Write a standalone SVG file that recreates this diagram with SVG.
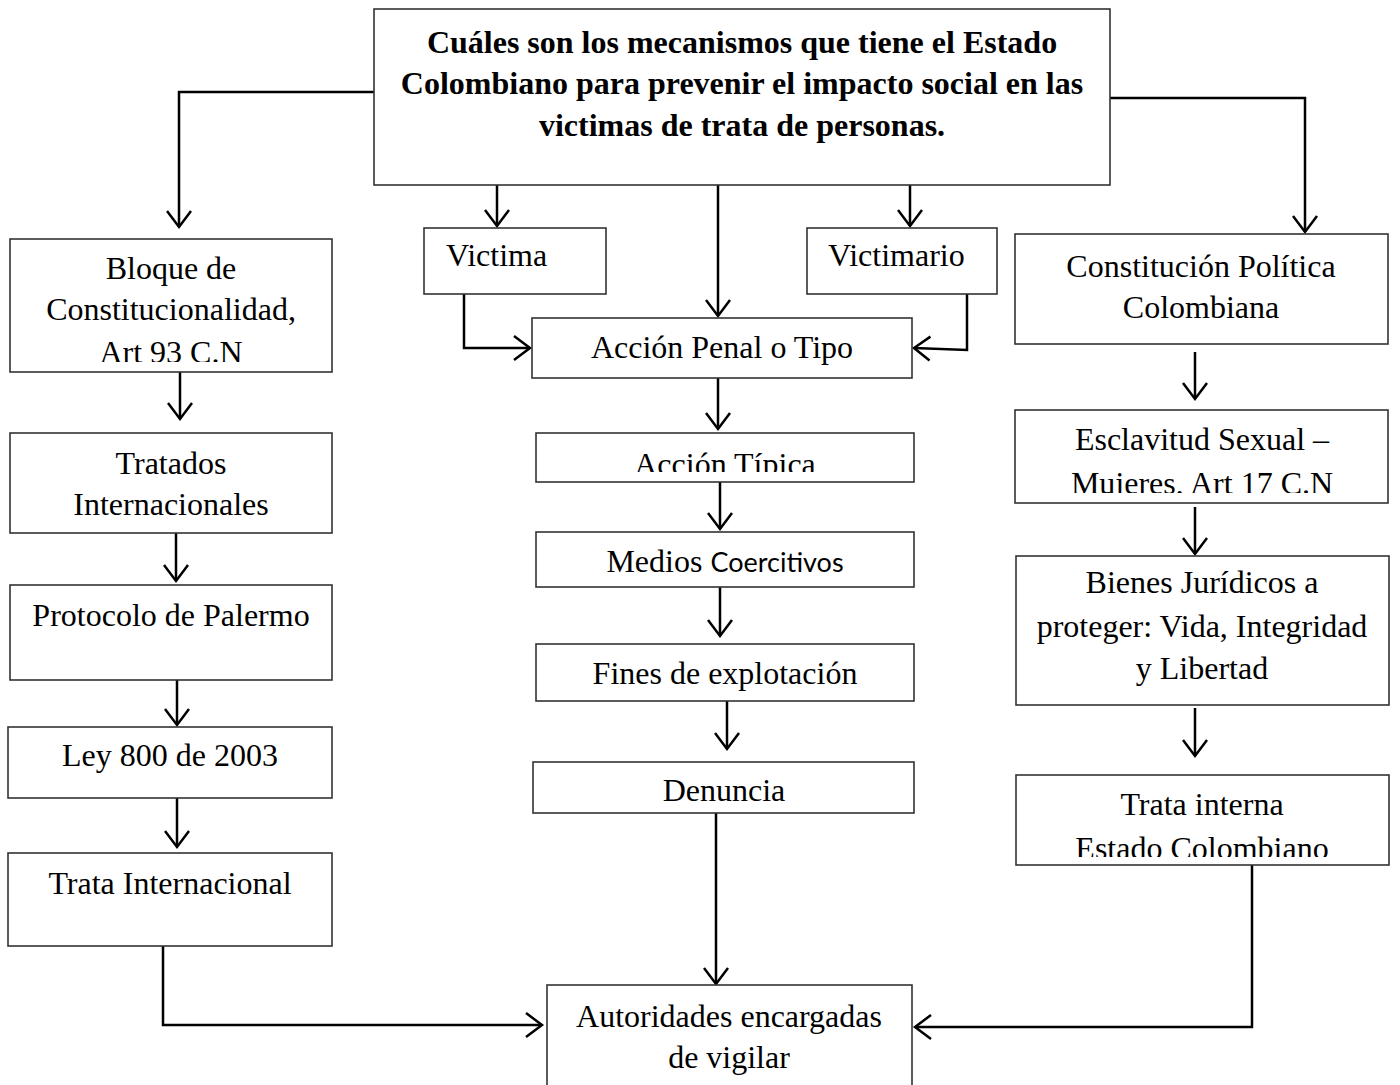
<svg xmlns="http://www.w3.org/2000/svg" width="1400" height="1085" viewBox="0 0 1400 1085">
<defs>
<style>
.box{fill:#fff;stroke:#333;stroke-width:1.6}
.t{font-family:"Liberation Serif","Times New Roman",serif;font-size:32px;fill:#000;text-anchor:middle}
.tl{font-family:"Liberation Serif","Times New Roman",serif;font-size:32px;fill:#000}
.title{font-family:"Liberation Serif","Times New Roman",serif;font-size:32px;font-weight:bold;fill:#000;text-anchor:middle}
.sans{font-family:Lato,"Open Sans",sans-serif;font-size:27px}
.c{fill:none;stroke:#000;stroke-width:2.5}
</style>
<marker id="ah" markerUnits="userSpaceOnUse" markerWidth="22" markerHeight="30" viewBox="0 -15 22 30" refX="19" refY="0" orient="auto">
<path d="M3,-12 L19,0 L3,12" fill="none" stroke="#000" stroke-width="2.5"/>
</marker>
<clipPath id="cpBloque"><rect x="10" y="239" width="322" height="123"/></clipPath>
<clipPath id="cpTipica"><rect x="536" y="433" width="378" height="39"/></clipPath>
<clipPath id="cpEsclav"><rect x="1015" y="410" width="373" height="83"/></clipPath>
<clipPath id="cpInterna"><rect x="1016" y="775" width="373" height="82"/></clipPath>
</defs>
<rect width="1400" height="1085" fill="#fff"/>

<g id="connectors">
<path class="c" d="M374,92 H179 V227" marker-end="url(#ah)"/>
<path class="c" d="M1110,98 H1305 V232" marker-end="url(#ah)"/>
<path class="c" d="M497,185 V226" marker-end="url(#ah)"/>
<path class="c" d="M718,185 V316" marker-end="url(#ah)"/>
<path class="c" d="M910,185 V226" marker-end="url(#ah)"/>
<path class="c" d="M464,294 V348 H530" marker-end="url(#ah)"/>
<path class="c" d="M967,294 V350 L914,348" marker-end="url(#ah)"/>
<path class="c" d="M718,378 V429" marker-end="url(#ah)"/>
<path class="c" d="M720,482 V529" marker-end="url(#ah)"/>
<path class="c" d="M720,587 V636" marker-end="url(#ah)"/>
<path class="c" d="M727,701 V749" marker-end="url(#ah)"/>
<path class="c" d="M716,813 V984" marker-end="url(#ah)"/>
<path class="c" d="M180,372 V419" marker-end="url(#ah)"/>
<path class="c" d="M176,533 V581" marker-end="url(#ah)"/>
<path class="c" d="M177,680 V725" marker-end="url(#ah)"/>
<path class="c" d="M177,798 V847" marker-end="url(#ah)"/>
<path class="c" d="M163,946 V1025 H542" marker-end="url(#ah)"/>
<path class="c" d="M1195,352 V399" marker-end="url(#ah)"/>
<path class="c" d="M1195,507 V554" marker-end="url(#ah)"/>
<path class="c" d="M1195,708 V756" marker-end="url(#ah)"/>
<path class="c" d="M1252,865 V1027 H915" marker-end="url(#ah)"/>
</g>

<g id="title">
<rect class="box" x="374" y="9" width="736" height="176"/>
<text class="title" x="742" y="53">Cuáles son los mecanismos que tiene el Estado</text>
<text class="title" x="742" y="94">Colombiano para prevenir el impacto social en las</text>
<text class="title" x="742" y="136">victimas de trata de personas.</text>
</g>

<g id="n-bloque">
<rect class="box" x="10" y="239" width="322" height="133"/>
<g clip-path="url(#cpBloque)">
<text class="t" x="171" y="279">Bloque de</text>
<text class="t" x="171" y="320">Constitucionalidad,</text>
<text class="t" x="171" y="363">Art 93 C.N</text>
</g>
</g>
<g id="n-tratados">
<rect class="box" x="10" y="433" width="322" height="100"/>
<text class="t" x="171" y="474">Tratados</text>
<text class="t" x="171" y="515">Internacionales</text>
</g>
<g id="n-protocolo">
<rect class="box" x="10" y="585" width="322" height="95"/>
<text class="t" x="171" y="626">Protocolo de Palermo</text>
</g>
<g id="n-ley">
<rect class="box" x="8" y="727" width="324" height="71"/>
<text class="t" x="170" y="766">Ley 800 de 2003</text>
</g>
<g id="n-trata-internacional">
<rect class="box" x="8" y="853" width="324" height="93"/>
<text class="t" x="170" y="894">Trata Internacional</text>
</g>

<g id="n-victima">
<rect class="box" x="424" y="228" width="182" height="66"/>
<text class="tl" x="446" y="266">Victima</text>
</g>
<g id="n-victimario">
<rect class="box" x="807" y="228" width="190" height="66"/>
<text class="tl" x="828" y="266">Victimario</text>
</g>
<g id="n-accion-penal">
<rect class="box" x="532" y="318" width="380" height="60"/>
<text class="t" x="722" y="358">Acción Penal o Tipo</text>
</g>
<g id="n-accion-tipica">
<rect class="box" x="536" y="433" width="378" height="49"/>
<g clip-path="url(#cpTipica)">
<text class="t" x="725" y="475">Acción Típica</text>
</g>
</g>
<g id="n-medios">
<rect class="box" x="536" y="532" width="378" height="55"/>
<text class="t" x="725" y="572">Medios <tspan class="sans">Coercitivos</tspan></text>
</g>
<g id="n-fines">
<rect class="box" x="536" y="644" width="378" height="57"/>
<text class="t" x="725" y="684">Fines de explotación</text>
</g>
<g id="n-denuncia">
<rect class="box" x="533" y="762" width="381" height="51"/>
<text class="t" x="724" y="801">Denuncia</text>
</g>
<g id="n-autoridades">
<rect class="box" x="547" y="985" width="365" height="110"/>
<text class="t" x="729" y="1027">Autoridades encargadas</text>
<text class="t" x="729" y="1068">de vigilar</text>
</g>

<g id="n-constitucion">
<rect class="box" x="1015" y="234" width="373" height="110"/>
<text class="t" x="1201" y="277">Constitución Política</text>
<text class="t" x="1201" y="318">Colombiana</text>
</g>
<g id="n-esclavitud">
<rect class="box" x="1015" y="410" width="373" height="93"/>
<g clip-path="url(#cpEsclav)">
<text class="t" x="1202" y="450">Esclavitud Sexual –</text>
<text class="t" x="1202" y="494">Mujeres, Art 17 C.N</text>
</g>
</g>
<g id="n-bienes">
<rect class="box" x="1016" y="556" width="373" height="149"/>
<text class="t" x="1202" y="593">Bienes Jurídicos a</text>
<text class="t" x="1202" y="637">proteger: Vida, Integridad</text>
<text class="t" x="1202" y="679">y Libertad</text>
</g>
<g id="n-trata-interna">
<rect class="box" x="1016" y="775" width="373" height="90"/>
<g clip-path="url(#cpInterna)">
<text class="t" x="1202" y="815">Trata interna</text>
<text class="t" x="1202" y="859">Estado Colombiano</text>
</g>
</g>
</svg>
